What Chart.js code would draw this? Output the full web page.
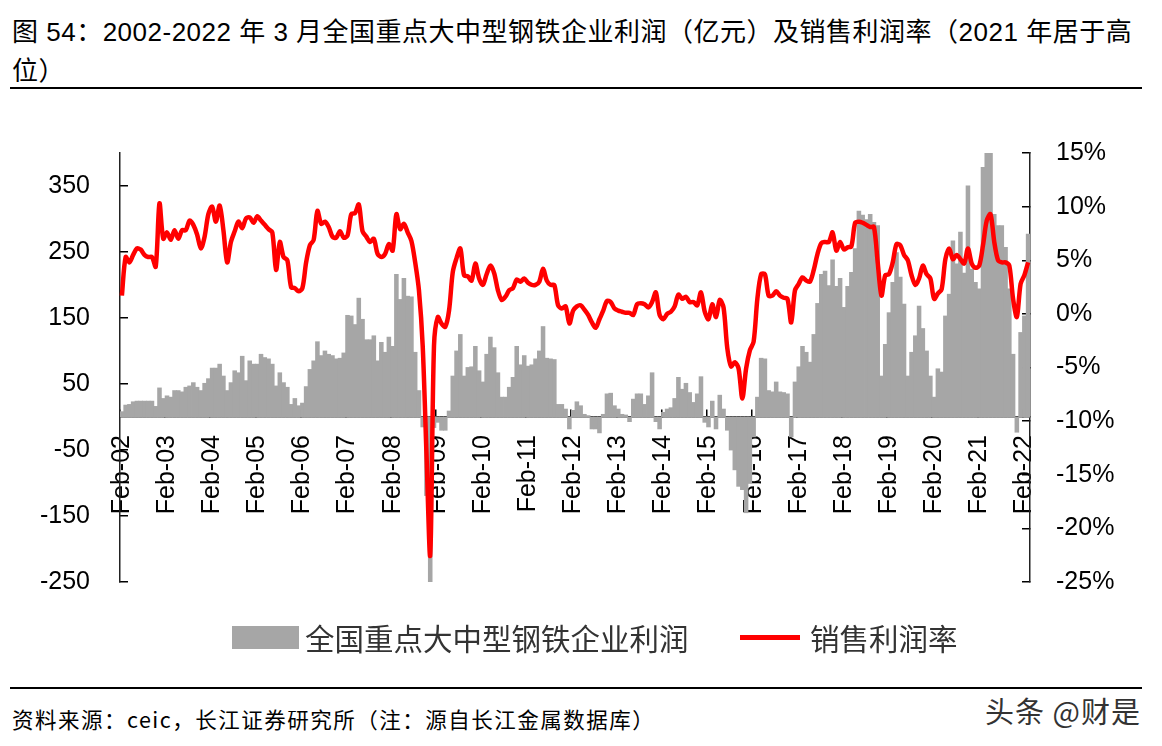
<!DOCTYPE html>
<html><head><meta charset="utf-8">
<script src="https://cdn.jsdelivr.net/npm/chart.js@4.4.1/dist/chart.umd.min.js"></script>
<style>
body{margin:0;background:#fff;width:1162px;height:746px;position:relative;overflow:hidden;font-family:"Liberation Sans","Noto Sans CJK SC",sans-serif;}
.abs{position:absolute;white-space:nowrap;}
#title{left:12px;top:13px;font-size:26px;line-height:39px;letter-spacing:0.5px;color:#000;}
.rule{position:absolute;left:10px;width:1132px;height:2px;background:#000;}
.leg{font-family:"Noto Sans CJK SC",sans-serif;font-size:29.5px;color:#333;line-height:34px;}
</style></head>
<body>
<div id="title" class="abs">图 54：2002-2022 年 3 月全国重点大中型钢铁企业利润（亿元）及销售利润率（2021 年居于高<br>位）</div>
<div class="rule" style="top:87px"></div>
<canvas id="c" width="1162" height="535" style="position:absolute;left:0;top:100px"></canvas>
<div class="abs" style="left:232px;top:626px;width:67px;height:23px;background:#a6a6a6"></div>
<div class="abs leg" style="left:305px;top:620px">全国重点大中型钢铁企业利润</div>
<div class="abs" style="left:740px;top:635px;width:60px;height:5px;background:#ff0000"></div>
<div class="abs leg" style="left:810px;top:620px">销售利润率</div>
<div class="rule" style="top:687px"></div>
<div class="abs" style="left:12px;top:706px;font-size:21.5px;letter-spacing:1.5px;color:#000;font-family:'Noto Sans CJK SC','Liberation Sans',sans-serif;line-height:26px">资料来源：ceic，长江证券研究所（注：源自长江金属数据库）</div>
<div class="abs" style="left:985px;top:693px;font-size:29px;letter-spacing:1px;color:#333;font-family:'Noto Sans CJK SC',sans-serif;line-height:34px">头条 @财是</div>
<script>
const monthNames = ['Jan','Feb','Mar','Apr','May','Jun','Jul','Aug','Sep','Oct','Nov','Dec'];
const categories = [];
for (let k = 0; k < 242; k++) {
  const m = (1 + k) % 12;
  const y = 2002 + Math.floor((1 + k) / 12);
  categories.push(monthNames[m] + '-' + String(y).slice(2));
}
// 全国重点大中型钢铁企业利润（亿元）, Feb-02 .. Mar-22
const profit = [
8,18,19,23,24,24,24,24,24,16,44,28,
32,30,40,40,38,45,47,52,45,40,51,58,
74,74,80,62,40,52,70,67,92,55,85,80,
80,95,90,88,80,47,67,52,45,19,28,17,
21,46,72,85,114,93,100,95,93,88,89,97,
154,153,140,180,148,117,117,123,85,113,98,121,
107,216,178,210,183,182,98,40,-15,-119,-250,-16,
-8,-20,-20,9,62,100,125,62,75,76,107,70,
53,95,121,105,67,30,30,45,60,107,79,93,
77,79,88,100,137,89,88,87,19,19,12,-18,
10,23,17,4,2,-18,-18,-24,4,35,36,17,
12,4,3,-7,27,35,35,19,32,67,-7,-18,
7,12,14,28,60,42,51,37,22,35,61,-8,
-15,24,-18,33,12,-20,-50,-80,-105,-110,-145,-100,
-30,30,89,88,40,38,53,38,37,35,-30,53,
76,107,98,83,125,172,216,221,199,238,198,210,
166,198,219,255,312,306,299,307,295,290,62,110,
158,204,249,212,171,62,98,123,168,134,100,62,
30,73,68,153,186,267,232,280,218,350,224,204,
194,378,420,420,307,290,290,257,194,95,-23,128,
153,277
];
// 销售利润率（%）
const margin = [
1.7,5.3,4.8,5.5,6.1,6.0,5.5,5.3,5.3,4.4,10.3,7.0,
7.6,6.9,7.8,7.0,7.8,7.8,8.7,8.3,7.4,6.1,7.2,9.3,
10.0,8.6,10.1,7.8,4.8,6.7,7.7,8.6,8.0,8.9,9.0,8.5,
9.1,8.7,8.3,7.9,7.6,4.1,6.7,5.3,5.0,2.5,2.4,2.1,
2.4,4.8,6.4,6.9,9.6,8.4,8.6,8.1,7.2,7.1,7.7,7.1,
7.3,9.3,9.4,10.2,7.7,7.2,6.7,7.0,5.6,5.3,5.6,6.5,
5.9,9.3,7.9,8.4,7.6,6.8,4.8,2.2,-3,-13,-22.5,-3,
-0.3,-0.9,-1.2,0.3,3.9,5.2,6.1,3.6,3.5,3.1,4.7,3.3,
2.7,3.7,4.5,3.8,2.2,1.3,1.6,2.2,2.4,3.2,3.0,3.3,
2.9,2.7,2.7,3.0,4.2,3.1,2.7,2.7,0.8,0.5,0.7,-0.9,
0.3,0.7,0.8,0.4,-0.1,-0.8,-1.3,-0.5,0.3,1.2,1.1,0.5,
0.3,0.2,0.1,0.1,-0.1,0.9,1.0,0.9,0.6,1.1,2.0,-0.1,
-0.5,0.0,0.2,0.7,1.8,1.4,1.6,1.1,1.1,0.8,2.0,0.2,
-0.5,0.9,-0.3,1.3,0.6,-3.2,-4.9,-4.5,-5.1,-7.9,-5.1,-3.4,
-2.6,1.4,3.7,3.7,1.7,1.7,2.1,1.7,1.5,1.4,-0.8,2.2,
2.8,3.4,3.1,3.0,4.1,5.6,6.6,6.7,6.7,7.6,5.9,6.7,
6.0,6.2,6.3,8.5,8.6,8.5,8.3,8.1,8.1,4.8,1.7,3.6,
3.7,4.8,6.5,6.4,5.5,5.0,3.6,2.7,3.3,4.5,3.7,3.3,
1.4,1.9,2.3,5.1,6.1,5.1,5.5,5.1,4.7,6.1,4.7,4.3,
4.5,6.4,8.7,9.3,6.7,5.0,4.8,4.8,4.5,1.4,-0.3,2.8,
3.6,4.8
];
const leftTicks = [-250,-150,-50,50,150,250,350];
const rightTicks = [-25,-20,-15,-10,-5,0,5,10,15];

const tickFont = {family:'"Liberation Sans", Arial, sans-serif', size:25};
new Chart(document.getElementById('c'), {
  type: 'bar',
  data: {
    labels: categories,
    datasets: [
      {type:'line', label:'销售利润率', data: margin, yAxisID:'y1', borderColor:'#ff0000', borderWidth:4.5, pointRadius:0, tension:0.3, order:0},
      {type:'bar', label:'全国重点大中型钢铁企业利润', data: profit, yAxisID:'y', backgroundColor:'#a6a6a6', barPercentage:1, categoryPercentage:1, borderWidth:0, inflateAmount:0.4, order:1}
    ]
  },
  options: {
    responsive:false, animation:false, devicePixelRatio:1,
    layout:{padding:{top:51,bottom:20,left:0,right:0}},
    plugins:{legend:{display:false}, tooltip:{enabled:false}},
    scales:{
      x:{
        position:{y:0},
        offset:true,
        grid:{display:true, drawOnChartArea:false, drawTicks:true, tickLength:-8, offset:true, lineWidth:1.5,
              color:(ctx)=> (ctx.index % 12 === 0 ? '#000' : 'rgba(0,0,0,0)')},
        border:{display:true, color:'#222', width:1.5},
        ticks:{autoSkip:false, minRotation:90, maxRotation:90, padding:26, color:'#000', font:tickFont,
               callback:(v,i)=> (i % 12 === 0 ? categories[i] : '')}
      },
      y:{
        position:'left', min:-250, max:400,
        afterBuildTicks:(s)=>{ s.ticks = leftTicks.map(v=>({value:v})); },
        afterFit:(s)=>{ s.width = 120; },
        grid:{drawOnChartArea:false, tickLength:-8, color:'#000', lineWidth:1.5},
        border:{display:true, color:'#222', width:1.5},
        ticks:{padding:38, color:'#000', font:tickFont}
      },
      y1:{
        position:'right', min:-25, max:15,
        afterBuildTicks:(s)=>{ s.ticks = rightTicks.map(v=>({value:v})); },
        afterFit:(s)=>{ s.width = 132; },
        grid:{drawOnChartArea:false, tickLength:-8, color:'#000', lineWidth:1.5},
        border:{display:true, color:'#222', width:1.5},
        ticks:{padding:34, color:'#000', font:tickFont, callback:(v)=> v + '%'}
      }
    }
  }
});
</script>
</body></html>
